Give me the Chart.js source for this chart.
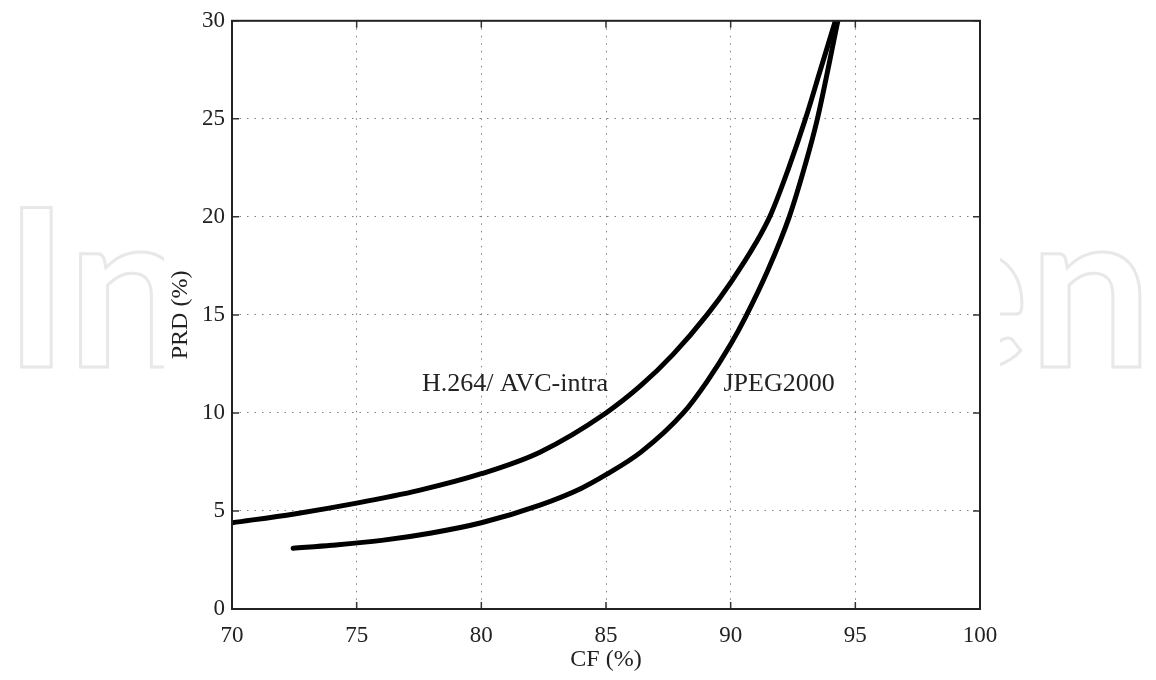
<!DOCTYPE html>
<html>
<head>
  <script src="https://cdn.jsdelivr.net/npm/chart.js@4"></script>
  <style>
    body { margin: 0; background: #fff; }
  </style>
</head>
<body>
  <canvas id="chartContainer" width="1156" height="680"></canvas>
  <script>
    // H.264/AVC-intra curve
    const cfH264 = [70, 72.5, 75, 77.5, 80, 82.35, 85, 86.4, 87.7, 89.05, 90, 91, 91.6, 92.3, 93, 93.6, 94.2];
    const prdH264 = [4.4, 4.85, 5.4, 6.05, 6.9, 8.0, 10, 11.4, 13.0, 15, 16.65, 18.65, 20.1, 22.4, 25, 27.5, 30];
    // JPEG2000 curve
    const cfJpeg = [72.45, 74, 76, 78, 80, 82.35, 84, 85, 86.4, 88.1, 89.05, 90, 90.6, 91.5, 92.35, 93, 93.46, 94.3];
    const prdJpeg = [3.1, 3.25, 3.5, 3.88, 4.4, 5.3, 6.15, 6.85, 8.0, 10, 11.6, 13.5, 14.9, 17.3, 20, 22.7, 24.9, 30];

    const curveNames = ['H.264/ AVC-intra', 'JPEG2000'];
    const labelCF = [81.35, 91.94];
    const labelPRD = [11.46, 11.46];

    const xTicks = [70, 75, 80, 85, 90, 95, 100];
    const yTicks = [0, 5, 10, 15, 20, 25, 30];

    function toPoints(xs, ys) {
      return xs.map((x, i) => ({ x: x, y: ys[i] }));
    }

    // faint outlined watermark behind the figure
    const watermark = {
      id: 'watermark',
      beforeDraw(chart) {
        const ctx = chart.ctx;
        ctx.save();
        ctx.font = 'bold 220px Lato';
        const w = ctx.measureText('IntechOpen').width;
        ctx.translate(4, 367);
        ctx.scale(1148 / w, 1);
        ctx.strokeStyle = '#e8e8e8';
        ctx.lineWidth = 3;
        ctx.strokeText('IntechOpen', 0, 0);
        ctx.restore();
        ctx.save();
        ctx.fillStyle = '#fff';
        ctx.fillRect(164, 0, 1000 - 164, 680);
        ctx.restore();
      }
    };

    // frame, inward tick marks and curve labels
    const decor = {
      id: 'decor',
      afterDraw(chart) {
        const ctx = chart.ctx;
        const a = chart.chartArea;
        const xs = chart.scales.x, ys = chart.scales.y;
        ctx.save();
        ctx.strokeStyle = '#333';
        ctx.lineWidth = 1.5;
        ctx.beginPath();
        xs.ticks.forEach(t => {
          const px = xs.getPixelForValue(t.value);
          ctx.moveTo(px, a.bottom); ctx.lineTo(px, a.bottom - 7);
          ctx.moveTo(px, a.top); ctx.lineTo(px, a.top + 7);
        });
        ys.ticks.forEach(t => {
          const py = ys.getPixelForValue(t.value);
          ctx.moveTo(a.left, py); ctx.lineTo(a.left + 7, py);
          ctx.moveTo(a.right, py); ctx.lineTo(a.right - 7, py);
        });
        ctx.stroke();
        ctx.strokeStyle = '#222';
        ctx.lineWidth = 2;
        ctx.strokeRect(a.left, a.top, a.right - a.left, a.bottom - a.top);

        ctx.fillStyle = '#222';
        ctx.font = '26px "Liberation Serif"';
        ctx.textAlign = 'center';
        ctx.textBaseline = 'middle';
        curveNames.forEach((name, i) => {
          ctx.fillText(name, xs.getPixelForValue(labelCF[i]), ys.getPixelForValue(labelPRD[i]));
        });
        ctx.restore();
      }
    };

    const ctx = document.getElementById('chartContainer').getContext('2d');
    const myChart = new Chart(ctx, {
      type: 'scatter',
      data: {
        datasets: [{
          label: curveNames[0],
          data: toPoints(cfH264, prdH264),
          showLine: true,
          borderColor: '#000',
          borderWidth: 5,
          pointRadius: 0,
          cubicInterpolationMode: 'monotone',
        }, {
          label: curveNames[1],
          data: toPoints(cfJpeg, prdJpeg),
          showLine: true,
          borderColor: '#000',
          borderWidth: 5,
          pointRadius: 0,
          borderCapStyle: 'round',
          cubicInterpolationMode: 'monotone',
        }],
      },
      options: {
        responsive: false,
        animation: false,
        layout: { padding: { top: 20, right: 176, left: 0, bottom: 0 } },
        plugins: {
          legend: { display: false },
          tooltip: { enabled: false },
        },
        scales: {
          x: {
            type: 'linear',
            min: 70,
            max: 100,
            afterBuildTicks: s => { s.ticks = xTicks.map(v => ({ value: v })); },
            afterFit: s => { s.height = 71; },
            grid: { color: '#808080', lineWidth: 1, drawTicks: false },
            border: { display: false, dash: [1.5, 6] },
            ticks: {
              color: '#222',
              padding: 13,
              font: { family: 'Liberation Serif', size: 23 },
            },
            title: {
              display: true,
              text: 'CF (%)',
              color: '#222',
              font: { family: 'Liberation Serif', size: 24 },
              padding: { top: 0, bottom: 6 },
            },
          },
          y: {
            type: 'linear',
            min: 0,
            max: 30,
            afterBuildTicks: s => { s.ticks = yTicks.map(v => ({ value: v })); },
            afterFit: s => { s.width = 232; },
            grid: { color: '#808080', lineWidth: 1, drawTicks: false },
            border: { display: false, dash: [1.5, 6] },
            ticks: {
              color: '#222',
              padding: 7,
              font: { family: 'Liberation Serif', size: 23 },
            },
            title: {
              display: true,
              text: 'PRD (%)',
              color: '#222',
              font: { family: 'Liberation Serif', size: 24 },
              padding: { top: 166, bottom: 0 },
            },
          },
        },
      },
      plugins: [watermark, decor],
    });
  </script>
</body>
</html>
